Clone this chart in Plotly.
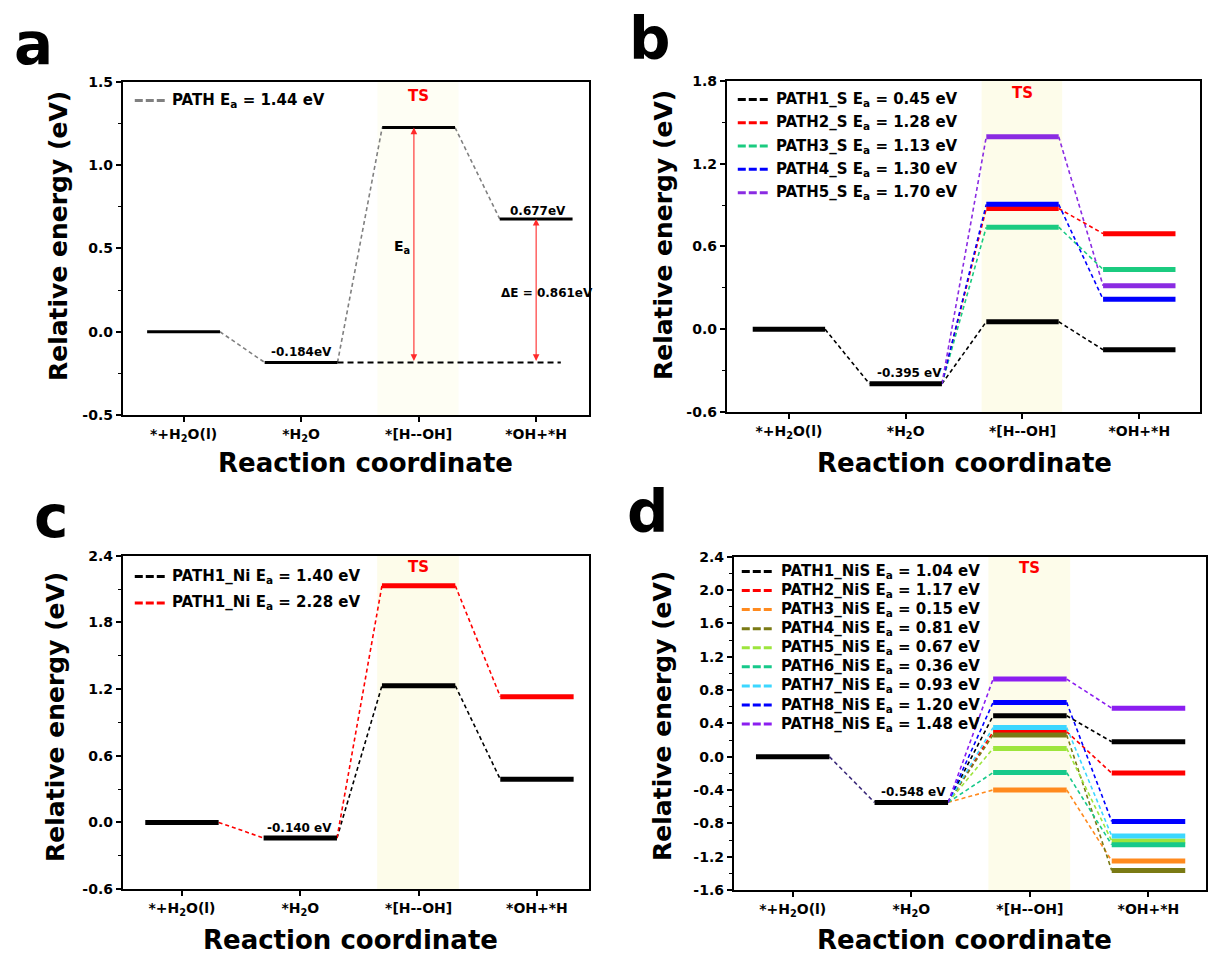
import plotly.graph_objects as go

W, H = 1208, 962
FONT = "DejaVu Sans"

# ---------------- data ----------------
stage_labels = ["*+H<sub>2</sub>O(l)", "*H<sub>2</sub>O", "*[H--OH]", "*OH+*H"]
stage_pos = [1, 2, 3, 4]

a_names = ["PATH E<sub>a</sub> = 1.44 eV"]
a_levels = [[0.0, -0.184, 1.225, 0.677]]
a_colors = ["#808080"]
a_ticks = [-0.5, 0.0, 0.5, 1.0, 1.5]

b_names = ["PATH1_S E<sub>a</sub> = 0.45 eV", "PATH2_S E<sub>a</sub> = 1.28 eV",
           "PATH3_S E<sub>a</sub> = 1.13 eV", "PATH4_S E<sub>a</sub> = 1.30 eV",
           "PATH5_S E<sub>a</sub> = 1.70 eV"]
b_levels = [[0.0, -0.395, 0.055, -0.148],
            [0.0, -0.395, 0.875, 0.693],
            [0.0, -0.395, 0.740, 0.434],
            [0.0, -0.395, 0.905, 0.217],
            [0.0, -0.395, 1.395, 0.316]]
b_colors = ["#000000", "#FF0000", "#1BCB80", "#0000FF", "#8A2BE2"]
b_ticks = [-0.6, 0.0, 0.6, 1.2, 1.8]

c_names = ["PATH1_Ni E<sub>a</sub> = 1.40 eV", "PATH1_Ni E<sub>a</sub> = 2.28 eV"]
c_levels = [[0.0, -0.140, 1.230, 0.388],
            [0.0, -0.140, 2.130, 1.132]]
c_colors = ["#000000", "#FF0000"]
c_ticks = [-0.6, 0.0, 0.6, 1.2, 1.8, 2.4]

d_names = ["PATH1_NiS E<sub>a</sub> = 1.04 eV", "PATH2_NiS E<sub>a</sub> = 1.17 eV",
           "PATH3_NiS E<sub>a</sub> = 0.15 eV", "PATH4_NiS E<sub>a</sub> = 0.81 eV",
           "PATH5_NiS E<sub>a</sub> = 0.67 eV", "PATH6_NiS E<sub>a</sub> = 0.36 eV",
           "PATH7_NiS E<sub>a</sub> = 0.93 eV", "PATH8_NiS E<sub>a</sub> = 1.20 eV",
           "PATH8_NiS E<sub>a</sub> = 1.48 eV"]
d_levels = [[0.0, -0.548, 0.492, 0.180],
            [0.0, -0.548, 0.300, -0.196],
            [0.0, -0.548, -0.398, -1.250],
            [0.0, -0.548, 0.262, -1.365],
            [0.0, -0.548, 0.100, -1.010],
            [0.0, -0.548, -0.190, -1.055],
            [0.0, -0.548, 0.350, -0.950],
            [0.0, -0.548, 0.652, -0.776],
            [0.0, -0.548, 0.932, 0.583]]
d_colors = ["#000000", "#FF0000", "#FF8A1E", "#7A7A14", "#9DE53C",
            "#17C98A", "#3CD7FF", "#0000FF", "#8B1EF0"]
d_ticks = [-1.6, -1.2, -0.8, -0.4, 0.0, 0.4, 0.8, 1.2, 1.6, 2.0, 2.4]

# ---------------- styling / layout (pixels) ----------------
panels = [
    dict(letter="a", names=a_names, levels=a_levels, colors=a_colors, bar_colors=["#000000"],
         ticks=a_ticks, dom_x=(123, 590), dom_y=(75, 414), xr=(0.483, 4.45), bar_w=3,
         start_color="#808080", band="#FEFEF4", letter_xy=(12, 37),
         ytitle_xy=(58, 232), xtitle_xy=(366, 463),
         leg_x=135, leg_y0=94, leg_dy=0, leg_tx=171,
         ts_y=1.416, val_label=("-0.184eV", 2.0, -0.122, 12)),
    dict(letter="b", names=b_names, levels=b_levels, colors=b_colors, bar_colors=b_colors,
         ticks=b_ticks, dom_x=(728, 1202), dom_y=(74, 411), xr=(0.468, 4.52), bar_w=5,
         start_color="#000000", band="#FDFCEA", letter_xy=(628, 32),
         ytitle_xy=(664, 231), xtitle_xy=(966, 463),
         leg_x=739, leg_y0=93, leg_dy=23.7, leg_tx=776,
         ts_y=1.712, val_label=("-0.395 eV", 2.03, -0.32, 12)),
    dict(letter="c", names=c_names, levels=c_levels, colors=c_colors, bar_colors=c_colors,
         ticks=c_ticks, dom_x=(123, 590), dom_y=(557, 896), xr=(0.5, 4.44), bar_w=5,
         start_color="#FF0000", band="#FDFCEA", letter_xy=(32, 518),
         ytitle_xy=(55, 721), xtitle_xy=(351, 948),
         leg_x=135, leg_y0=578, leg_dy=27, leg_tx=171,
         ts_y=2.30, val_label=("-0.140 eV", 1.99, -0.05, 12)),
    dict(letter="d", names=d_names, levels=d_levels, colors=d_colors, bar_colors=d_colors,
         ticks=d_ticks, dom_x=(735, 1208), dom_y=(558, 897), xr=(0.503, 4.485), bar_w=5,
         start_color="#3B2A7A", band="#FDFCEA", letter_xy=(626, 513),
         ytitle_xy=(663, 720), xtitle_xy=(966, 948),
         leg_x=743, leg_y0=573, leg_dy=19.4, leg_tx=781,
         ts_y=2.27, val_label=("-0.548 eV", 2.02, -0.42, 12)),
]

HW = 0.31          # half width of an energy level bar (in category units)
TS_BAND = (2.65, 3.34)
DASH = "4px,3px"

fig = go.Figure()
annotations = []
shapes = []
layout = {}

for k, P in enumerate(panels):
    n = k + 1
    sfx = "" if n == 1 else str(n)
    xa, ya = "x" + sfx, "y" + sfx
    levels = P["levels"]
    lv0 = levels[0]

    # connector: stage 1 -> stage 2 (shared by all paths)
    fig.add_trace(go.Scatter(
        x=[stage_pos[0] + HW, stage_pos[1] - HW], y=[lv0[0], lv0[1]], mode="lines",
        line=dict(color=P["start_color"], width=1.6, dash=DASH),
        xaxis=xa, yaxis=ya, showlegend=False, hoverinfo="skip"))
    # per-path connectors
    for lv, col in zip(levels, P["colors"]):
        xs, ys = [], []
        for i in (1, 2):
            xs += [stage_pos[i] + HW, stage_pos[i + 1] - HW, None]
            ys += [lv[i], lv[i + 1], None]
        fig.add_trace(go.Scatter(
            x=xs, y=ys, mode="lines", line=dict(color=col, width=1.6, dash=DASH),
            xaxis=xa, yaxis=ya, showlegend=False, hoverinfo="skip"))

    # panel a: dashed reference line at the *H2O level
    if P["letter"] == "a":
        fig.add_trace(go.Scatter(
            x=[stage_pos[1] + HW, 4.21], y=[lv0[1], lv0[1]], mode="lines",
            line=dict(color="#000000", width=2, dash="6px,4px"),
            xaxis=xa, yaxis=ya, showlegend=False, hoverinfo="skip"))

    # shared bars (stage 1 and 2)
    xs, ys = [], []
    for i in (0, 1):
        xs += [stage_pos[i] - HW, stage_pos[i] + HW, None]
        ys += [lv0[i], lv0[i], None]
    fig.add_trace(go.Scatter(
        x=xs, y=ys, mode="lines", line=dict(color="#000000", width=P["bar_w"]),
        xaxis=xa, yaxis=ya, showlegend=False, hoverinfo="skip"))
    # per-path bars (stage 3 and 4)
    bcols = P["bar_colors"] * len(levels) if len(P["bar_colors"]) == 1 else P["bar_colors"]
    for lv, col in zip(levels, bcols):
        xs, ys = [], []
        for i in (2, 3):
            xs += [stage_pos[i] - HW, stage_pos[i] + HW, None]
            ys += [lv[i], lv[i], None]
        fig.add_trace(go.Scatter(
            x=xs, y=ys, mode="lines", line=dict(color=col, width=P["bar_w"]),
            xaxis=xa, yaxis=ya, showlegend=False, hoverinfo="skip"))

    # legend (drawn as keys + texts for exact row spacing)
    for j, (name, col) in enumerate(zip(P["names"], P["colors"])):
        ry = P["leg_y0"] + j * P["leg_dy"]
        shapes.append(dict(type="line", xref="paper", yref="paper",
                           x0=P["leg_x"] / W, x1=(P["leg_x"] + 30) / W,
                           y0=1 - ry / H, y1=1 - ry / H,
                           line=dict(color=col, width=3, dash="8px,3px")))
        annotations.append(dict(text="<b>" + name + "</b>", x=P["leg_tx"] / W, y=1 - ry / H,
                                xref="paper", yref="paper", xanchor="left", yanchor="middle",
                                showarrow=False, borderpad=0,
                                font=dict(family=FONT, size=15, color="#000000")))

    # axes
    x0, x1 = P["dom_x"]
    y0, y1 = P["dom_y"]
    ticks = P["ticks"]
    minor_vals = [(a + b) / 2 for a, b in zip(ticks[:-1], ticks[1:])]
    layout["xaxis" + sfx] = dict(
        domain=[x0 / W, min(x1 / W, 1.0)], range=list(P["xr"]), anchor=ya,
        tickmode="array", tickvals=stage_pos,
        ticktext=["<b>" + t + "</b>" for t in stage_labels],
        ticks="outside", ticklen=5, tickwidth=1.5, tickcolor="#000000",
        showline=True, mirror=True, linewidth=2, linecolor="#000000",
        showgrid=False, zeroline=False,
        tickfont=dict(family=FONT, size=14, color="#000000"))
    layout["yaxis" + sfx] = dict(
        domain=[1 - y1 / H, 1 - y0 / H], range=[ticks[0], ticks[-1]], anchor=xa,
        tickmode="array", tickvals=ticks, ticktext=[f"<b>{v:.1f}</b>" for v in ticks],
        ticks="outside", ticklen=5, tickwidth=1.5, tickcolor="#000000",
        minor=dict(tickmode="array", tickvals=minor_vals, ticks="outside",
                   ticklen=3, tickwidth=1.2, tickcolor="#000000"),
        showline=True, mirror=True, linewidth=2, linecolor="#000000",
        showgrid=False, zeroline=False,
        tickfont=dict(family=FONT, size=14, color="#000000"))

    # TS band
    shapes.append(dict(type="rect", xref=xa, yref=ya + " domain", x0=TS_BAND[0], x1=TS_BAND[1],
                       y0=0, y1=1, fillcolor=P["band"], line=dict(width=0), layer="below"))

    # texts
    annotations.append(dict(text="<b>TS</b>", x=3.0, y=P["ts_y"], xref=xa, yref=ya,
                            showarrow=False, font=dict(family=FONT, size=15, color="#FF0000")))
    vt, vx, vy, vs = P["val_label"]
    annotations.append(dict(text="<b>" + vt + "</b>", x=vx, y=vy, xref=xa, yref=ya,
                            showarrow=False, font=dict(family=FONT, size=vs, color="#000000")))
    lx, ly = P["letter_xy"]
    annotations.append(dict(text="<b>" + P["letter"] + "</b>", x=lx / W, y=1 - ly / H,
                            xref="paper", yref="paper", xanchor="left", yanchor="middle",
                            showarrow=False, font=dict(family=FONT, size=58, color="#000000")))
    tx, ty = P["ytitle_xy"]
    annotations.append(dict(text="<b>Relative energy (eV)</b>", x=tx / W, y=1 - ty / H,
                            xref="paper", yref="paper", textangle=-90,
                            xanchor="center", yanchor="middle", showarrow=False,
                            font=dict(family=FONT, size=25, color="#000000")))
    tx, ty = P["xtitle_xy"]
    annotations.append(dict(text="<b>Reaction coordinate</b>", x=tx / W, y=1 - ty / H,
                            xref="paper", yref="paper", xanchor="center", yanchor="middle",
                            showarrow=False, font=dict(family=FONT, size=26, color="#000000")))

# panel a extras: arrows and labels
lvA = a_levels[0]
for ax_x, top in ((2.96, lvA[2]), (4.0, lvA[3])):
    annotations.append(dict(text="", x=ax_x, y=top, ax=ax_x, ay=lvA[1], xref="x", yref="y",
                            axref="x", ayref="y", showarrow=True, arrowhead=2,
                            startarrowhead=2, arrowside="end+start", arrowsize=1.2,
                            arrowwidth=1.1, arrowcolor="#FF2A2A", standoff=0, startstandoff=0))
annotations.append(dict(text="<b>E<sub>a</sub></b>", x=2.94, y=0.509, xref="x", yref="y",
                        xanchor="right", showarrow=False,
                        font=dict(family=FONT, size=14, color="#000000")))
annotations.append(dict(text="<b>\u0394E = 0.861eV</b>", x=4.09, y=0.232, xref="x", yref="y",
                        showarrow=False, font=dict(family=FONT, size=12, color="#000000")))
annotations.append(dict(text="<b>0.677eV</b>", x=4.02, y=0.723, xref="x", yref="y",
                        showarrow=False, font=dict(family=FONT, size=12, color="#000000")))

fig.update_layout(**layout)
fig.update_layout(
    width=W, height=H, autosize=False, showlegend=False,
    margin=dict(l=0, r=0, t=0, b=0, pad=0),
    paper_bgcolor="#FFFFFF", plot_bgcolor="#FFFFFF",
    font=dict(family=FONT, color="#000000", weight="bold"),
    annotations=annotations, shapes=shapes,
    hovermode=False,
)

fig.write_html("out.html")
